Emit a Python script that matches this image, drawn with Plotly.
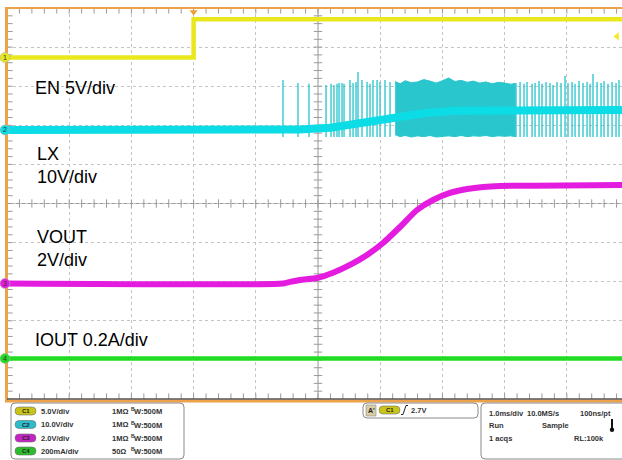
import plotly.graph_objects as go

# ---------------- data ----------------
# time in ms relative to the trigger (1.0 ms/div)
EN_T = [-3.0, 0.0, 0.0, 6.89]
EN_V = [0.0, 0.0, 4.9, 4.9]

LX_BASE_T = [-3.0, 1.4, 1.7, 2.2, 2.7, 3.2, 3.7, 4.2, 5.0, 6.89]
LX_BASE_V = [0.0, 0.0, 0.13, 0.6, 1.8, 2.8, 4.3, 4.9, 5.1, 5.1]

LX_SPIKE_T = [1.437, 1.678, 1.855, 2.129, 2.209, 2.257, 2.305, 2.338, 2.386, 2.418,
              2.514, 2.563, 2.611, 2.643, 2.707, 2.788, 2.836, 2.884, 2.949, 2.997,
              3.077, 3.158,
              5.183, 5.248, 5.312, 5.360, 5.441, 5.489, 5.553, 5.601, 5.666, 5.730,
              5.778, 5.842, 5.907, 5.971, 6.019, 6.084, 6.132, 6.196, 6.260, 6.325,
              6.373, 6.421, 6.486, 6.550, 6.598, 6.662, 6.727, 6.791, 6.839]
LX_SPIKE_PEAK = [12.8, 12.0, 11.8, 11.5, 11.8, 11.5, 11.8, 12.0, 12.0, 11.8,
                 12.8, 12.0, 12.3, 14.8, 12.8, 12.3, 11.8, 12.8, 12.8, 12.3,
                 12.8, 12.3,
                 12.0, 12.3, 11.8, 12.3, 11.8, 12.0, 12.5, 11.8, 12.3, 12.0,
                 11.5, 12.3, 12.0, 13.8, 12.0, 12.3, 11.8, 12.5, 12.0, 12.3,
                 11.8, 14.3, 12.3, 12.0, 12.5, 11.8, 12.3, 12.0, 12.8]
LX_SPIKE_LOW = -1.8

LX_DENSE_T = [3.24, 3.32, 3.4, 3.5, 3.6, 3.7, 3.8, 3.9, 4.0, 4.1, 4.2, 4.3, 4.4,
              4.5, 4.6, 4.7, 4.8, 4.9, 5.0, 5.1, 5.17]
LX_DENSE_HI = [12.4, 11.8, 12.6, 12.1, 12.3, 12.9, 12.5, 12.0, 12.6, 13.3, 12.4, 12.7,
               12.2, 12.5, 12.0, 12.3, 11.8, 12.2, 12.0, 11.7, 11.9]
LX_DENSE_LO = [-1.2, -1.7, -1.4, -1.8, -1.5, -1.7, -1.4, -1.8, -1.6, -1.5, -1.7, -1.4,
               -1.7, -1.5, -1.6, -1.4, -1.7, -1.5, -1.6, -1.5, -1.7]

VOUT_T = [-3.0, 1.437, 1.55, 1.711, 1.984, 2.241, 2.514, 2.788, 3.045, 3.318,
          3.592, 3.849, 4.122, 4.395, 4.653, 4.926, 5.457, 6.89]
VOUT_V = [0.0, 0.0, 0.08, 0.18, 0.28, 0.55, 0.95, 1.46, 2.07, 2.89,
          3.76, 4.27, 4.63, 4.83, 4.94, 4.99, 5.0, 5.04]

IOUT_T = [-3.0, 6.89]
IOUT_A = [0.0, 0.0]

TRIG_LEVEL = 2.7

CH_LABELS = ["EN 5V/div", "LX<br>10V/div", "VOUT<br>2V/div", "IOUT 0.2A/div"]
SETUP_SCALE = ["5.0V/div", "10.0V/div", "2.0V/div", "200mA/div"]
SETUP_IMP = ["1MΩ", "1MΩ", "1MΩ", "50Ω"]

# ---------------- channel placement / styles ----------------
SCALE = {1: 5.0, 2: 10.0, 3: 2.0, 4: 0.2}
OFFSET = {1: 3.734, 2: 1.880, 3: -2.046, 4: -3.964}
COL = {1: "#e8e81c", 2: "#0cdce6", 3: "#e41ce0", 4: "#22dc22"}
PILL = {1: "#c9c418", 2: "#2cbccc", 3: "#c424c4", 4: "#2cbc2c"}


def pos(ch, v):
    return OFFSET[ch] + v / SCALE[ch]


XR = [-3.0, 6.887]
FONT = "Liberation Sans, Arial, sans-serif"

W, H = 622, 460
L, T, B = 7, 8, 61
PW, PH = W - L, H - T - B


def fx(x):
    return (x - L) / PW


def fy(y):
    return (T + PH - y) / PH


def ypx(d):
    # division value -> pixel row (for decorations placed in paper space)
    return T + PH * (5 - d) / 10


fig = go.Figure()

# graticule ticks on centre lines and borders
tx = [XR[0] + 0.2 * k for k in range(50)]
ty = [-5 + 0.2 * k for k in range(51)]
tick_style = dict(color="#9a9a9a", line=dict(color="#9a9a9a", width=1))
fig.add_trace(go.Scatter(x=tx, y=[0] * len(tx), mode="markers",
                         marker=dict(symbol="line-ns-open", size=6, **tick_style), hoverinfo="skip"))
fig.add_trace(go.Scatter(x=[2] * len(ty), y=ty, mode="markers",
                         marker=dict(symbol="line-ew-open", size=6, **tick_style), hoverinfo="skip"))
fig.add_trace(go.Scatter(x=tx + tx, y=[5] * len(tx) + [-5] * len(tx), mode="markers",
                         marker=dict(symbol="line-ns-open", size=8, **tick_style), hoverinfo="skip"))
fig.add_trace(go.Scatter(x=[XR[0]] * len(ty), y=ty, mode="markers",
                         marker=dict(symbol="line-ew-open", size=8, **tick_style), hoverinfo="skip"))

# LX switching: dense burst and spikes
fig.add_trace(go.Scatter(
    x=LX_DENSE_T + LX_DENSE_T[::-1],
    y=[pos(2, v) for v in LX_DENSE_HI] + [pos(2, v) for v in LX_DENSE_LO[::-1]],
    fill="toself", fillcolor="#2ac6ce", mode="lines", line=dict(width=1, color="#2ac6ce"),
    hoverinfo="skip"))
sx, sy = [], []
for t, p in zip(LX_SPIKE_T, LX_SPIKE_PEAK):
    sx += [t, t, None]
    sy += [pos(2, LX_SPIKE_LOW), pos(2, p), None]
fig.add_trace(go.Scatter(x=sx, y=sy, mode="lines", line=dict(width=1.3, color="#22c4cc"),
                         connectgaps=False, hoverinfo="skip"))

# channel traces
fig.add_trace(go.Scatter(x=LX_BASE_T, y=[pos(2, v) for v in LX_BASE_V], mode="lines",
                         line=dict(color=COL[2], width=8), hoverinfo="skip"))
fig.add_trace(go.Scatter(x=EN_T, y=[pos(1, v) for v in EN_V], mode="lines",
                         line=dict(color=COL[1], width=4.5), hoverinfo="skip"))
fig.add_trace(go.Scatter(x=VOUT_T, y=[pos(3, v) for v in VOUT_V], mode="lines",
                         line=dict(color=COL[3], width=6, shape="spline", smoothing=0.6),
                         hoverinfo="skip"))
fig.add_trace(go.Scatter(x=IOUT_T, y=[pos(4, v) for v in IOUT_A], mode="lines",
                         line=dict(color=COL[4], width=4.5), hoverinfo="skip"))

# trigger position & level markers
fig.add_trace(go.Scatter(x=[0.0], y=[4.9], mode="markers",
                         marker=dict(symbol="triangle-down", size=7, color="#f0a030"),
                         cliponaxis=False, hoverinfo="skip"))
fig.add_trace(go.Scatter(x=[6.807], y=[pos(1, TRIG_LEVEL)], mode="markers",
                         marker=dict(symbol="triangle-left", size=7, color="#ecec20"),
                         cliponaxis=False, hoverinfo="skip"))

shapes = []
ann = []
# centre cross
shapes.append(dict(type="line", xref="x", yref="y", x0=2, x1=2, y0=-5, y1=5,
                   line=dict(color="#9a9a9a", width=1), layer="below"))
shapes.append(dict(type="line", xref="x", yref="y", x0=XR[0], x1=XR[1], y0=0, y1=0,
                   line=dict(color="#9a9a9a", width=1), layer="below"))
# frame
shapes.append(dict(type="line", xref="paper", yref="paper", x0=fx(6.5), x1=fx(6.5), y0=fy(8), y1=fy(401),
                   line=dict(color="#eda24a", width=3)))
shapes.append(dict(type="line", xref="paper", yref="paper", x0=fx(5), x1=1, y0=fy(8), y1=fy(8),
                   line=dict(color="#eda24a", width=2)))
shapes.append(dict(type="line", xref="paper", yref="paper", x0=fx(5), x1=1, y0=fy(401), y1=fy(401),
                   line=dict(color="#eda24a", width=3)))
shapes.append(dict(type="line", xref="paper", yref="paper", x0=fx(7), x1=1, y0=fy(399), y1=fy(399),
                   line=dict(color="#555555", width=1.5)))

# ground-level channel markers on the left frame
for c in (1, 2, 3, 4):
    yc = ypx(OFFSET[c])
    shapes.append(dict(type="circle", xref="paper", yref="paper", x0=fx(0), x1=fx(10),
                       y0=fy(yc - 5), y1=fy(yc + 5), fillcolor=COL[c],
                       line=dict(color="#b0b0b0", width=0.6)))
    ann.append(dict(xref="paper", yref="paper", x=fx(5), y=fy(yc), text=str(c), showarrow=False,
                    xanchor="center", yanchor="middle",
                    font=dict(family=FONT, size=7, color="#333333")))


def rrect(x0, y0, x1, y1, r, fill, line_col, lw=1):
    pts = (f"M{fx(x0 + r)},{fy(y0)} L{fx(x1 - r)},{fy(y0)} Q{fx(x1)},{fy(y0)} {fx(x1)},{fy(y0 + r)} "
           f"L{fx(x1)},{fy(y1 - r)} Q{fx(x1)},{fy(y1)} {fx(x1 - r)},{fy(y1)} "
           f"L{fx(x0 + r)},{fy(y1)} Q{fx(x0)},{fy(y1)} {fx(x0)},{fy(y1 - r)} "
           f"L{fx(x0)},{fy(y0 + r)} Q{fx(x0)},{fy(y0)} {fx(x0 + r)},{fy(y0)} Z")
    return dict(type="path", xref="paper", yref="paper", path=pts, fillcolor=fill,
                line=dict(color=line_col, width=lw))


# bottom info boxes
shapes.append(rrect(11, 403, 184, 459, 4, "white", "#8a8a8a"))
shapes.append(rrect(363, 403, 478, 418, 4, "white", "#8a8a8a"))
shapes.append(rrect(481, 403, 640, 459, 4, "white", "#8a8a8a"))


def txt(x, y, s, size=7.5, color="#333333", bold=True, anchor="left"):
    ann.append(dict(xref="paper", yref="paper", x=fx(x), y=fy(y), text=(f"<b>{s}</b>" if bold else s),
                    showarrow=False, xanchor=anchor, yanchor="middle",
                    font=dict(family=FONT, size=size, color=color)))


rows_y = [411, 424.5, 438, 451]
for i, c in enumerate((1, 2, 3, 4)):
    y = rows_y[i]
    shapes.append(rrect(15, y - 4, 36, y + 4, 4, PILL[c], "#707070", 0.6))
    txt(25.5, y, f"C{c}", size=6, color="#222222", anchor="center")
    txt(39, y, SETUP_SCALE[i])
    txt(110, y, SETUP_IMP[i])
    txt(128.5, y - 2, "B", size=5)
    txt(131.5, y + 0.5, "W:500M")

# trigger box
shapes.append(dict(type="rect", xref="paper", yref="paper", x0=fx(366), x1=fx(376), y0=fy(405), y1=fy(416),
                   fillcolor="#d9cda6", line=dict(color="#8a8a8a", width=0.6)))
txt(371, 410.5, "A'", size=7, color="#222222", anchor="center")
shapes.append(rrect(379, 406, 400, 414, 4, PILL[1], "#707070", 0.6))
txt(389.5, 410, "C1", size=6, color="#222222", anchor="center")
shapes.append(dict(type="path", xref="paper", yref="paper",
                   path=f"M{fx(401)},{fy(414.5)} L{fx(403)},{fy(414.5)} L{fx(406)},{fy(405.5)} L{fx(408)},{fy(405.5)}",
                   line=dict(color="#222222", width=1)))
txt(409, 410, "2.7V")

# acquisition box
txt(487, 413, "1.0ms/div")
txt(525, 413, "10.0MS/s")
txt(578, 413, "100ns/pt")
txt(487, 425.5, "Run")
txt(540, 425.5, "Sample")
txt(487, 438.5, "1 acqs")
txt(572, 438.5, "RL:100k")
shapes.append(dict(type="line", xref="paper", yref="paper", x0=fx(612), x1=fx(612), y0=fy(419), y1=fy(429),
                   line=dict(color="#111111", width=2)))
shapes.append(dict(type="circle", xref="paper", yref="paper", x0=fx(609.8), x1=fx(614.2), y0=fy(427.5),
                   y1=fy(431.9), fillcolor="#111111", line=dict(width=0)))

# channel labels
label_pos = [(33, 88), (35, 165), (35, 248.5), (33, 340)]
for s, (x, y) in zip(CH_LABELS, label_pos):
    ann.append(dict(xref="paper", yref="paper", x=fx(x), y=fy(y), text=s, showarrow=False,
                    xanchor="left", yanchor="middle", align="left",
                    font=dict(family=FONT, size=18, color="#000000")))

fig.update_layout(
    width=W, height=H, margin=dict(l=L, r=0, t=T, b=B, pad=0),
    paper_bgcolor="white", plot_bgcolor="white", showlegend=False,
    xaxis=dict(range=XR, tick0=-3, dtick=1, showgrid=True, gridcolor="#c4c4c4", griddash="dot",
               gridwidth=1, zeroline=False, showticklabels=False, ticks="", fixedrange=True),
    yaxis=dict(range=[-5, 5], tick0=-5, dtick=1, showgrid=True, gridcolor="#c4c4c4", griddash="dot",
               gridwidth=1, zeroline=False, showticklabels=False, ticks="", fixedrange=True),
    shapes=shapes, annotations=ann,
)

fig.write_html("out.html", config={"displayModeBar": False},
               post_script="document.body.style.margin='0';document.body.style.overflow='hidden';")
